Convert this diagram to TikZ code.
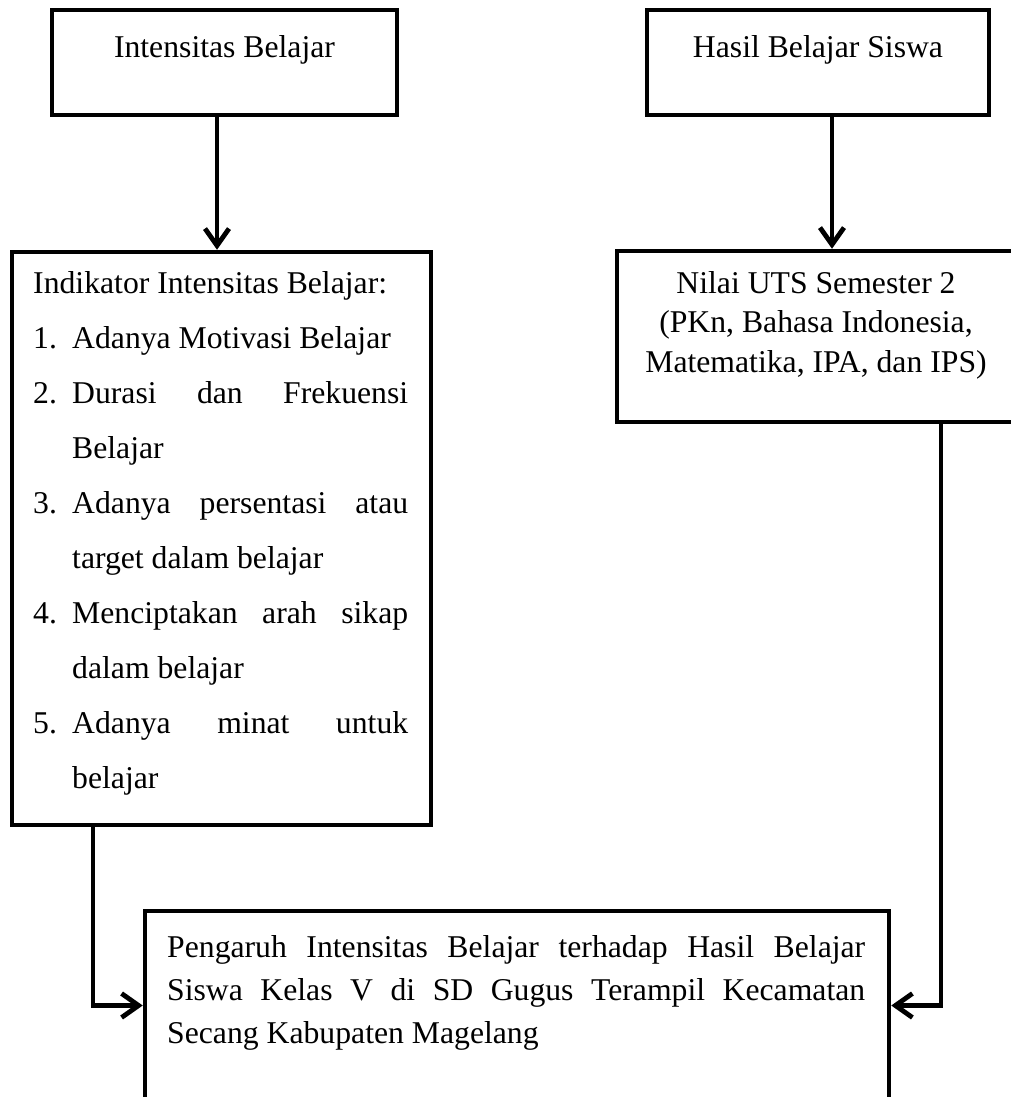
\documentclass[tikz,border=0pt]{standalone}
\usepackage{fontspec}
\setmainfont{Liberation Serif}
\usetikzlibrary{arrows.meta}
\tikzset{
  box/.style={draw=black, line width=4.5pt, rectangle, inner sep=0pt, fill=white},
  txt/.style={inner sep=0pt, font=\fontsize{31.7}{39.5}\selectfont},
  arr/.style={line width=4.8pt, -{Straight Barb[length=17pt,width=24pt]}}
}
\begin{document}
\begin{tikzpicture}[x=1pt,y=-1pt]
\useasboundingbox (0,0) rectangle (1011,1097);
\fill[white] (0,0) rectangle (1011,1097);
\clip (0,0) rectangle (1011,1097);
% boxes
\node[box, minimum width=345, minimum height=105] (b1) at (224.5,62.5) {};
\node[box, minimum width=342, minimum height=105] (b2) at (818,62.5) {};
\node[box, minimum width=419, minimum height=573] (b3) at (221.5,538.5) {};
\node[box, minimum width=413, minimum height=171] (b4) at (823.5,336.5) {};
\node[box, minimum width=744, minimum height=189] (b5) at (517,1005.5) {};
% texts
\node[txt, anchor=base] (t1) at (224.5,58) {Intensitas Belajar};
\node[txt, anchor=base] (t2) at (818,58) {Hasil Belajar Siswa};
\node[txt, anchor=north, align=center] (t4) at (816,271.3) {Nilai UTS Semester 2\\(PKn, Bahasa Indonesia,\\Matematika, IPA, dan IPS)};
\node[txt, anchor=north west, text width=375pt, align=justify,
      font=\fontsize{31.7}{55}\selectfont] (t3) at (33,271.3) {%
\hyphenpenalty=10000\exhyphenpenalty=10000
\noindent Indikator Intensitas Belajar:\par
\hangindent=39pt\hangafter=1\noindent\makebox[39pt][l]{1.}Adanya Motivasi Belajar\par
\hangindent=39pt\hangafter=1\noindent\makebox[39pt][l]{2.}Durasi dan Frekuensi\linebreak Belajar\par
\hangindent=39pt\hangafter=1\noindent\makebox[39pt][l]{3.}Adanya persentasi atau\linebreak target dalam belajar\par
\hangindent=39pt\hangafter=1\noindent\makebox[39pt][l]{4.}Menciptakan arah sikap\linebreak dalam belajar\par
\hangindent=39pt\hangafter=1\noindent\makebox[39pt][l]{5.}Adanya minat untuk\linebreak belajar\par}; 
\node[txt, anchor=north west, text width=698pt, align=justify,
      font=\fontsize{31.7}{43}\selectfont] (t5) at (167,935.3) {%
\hyphenpenalty=10000\exhyphenpenalty=10000
\noindent Pengaruh Intensitas Belajar terhadap Hasil Belajar\linebreak Siswa Kelas V di SD Gugus Terampil Kecamatan\linebreak Secang Kabupaten Magelang\par};
% connectors
\coordinate (xa) at (217,0);
\coordinate (xb) at (832,0);
\coordinate (xc) at (93,0);
\coordinate (xd) at (941,0);
\draw[arr] (b1.south -| xa) -- (b3.north -| xa);
\draw[arr] (b2.south -| xb) -- (b4.north -| xb);
\draw[arr] (b3.south -| xc) |- (b5.west);
\draw[arr] (b4.south -| xd) |- (b5.east);
\end{tikzpicture}
\end{document}
